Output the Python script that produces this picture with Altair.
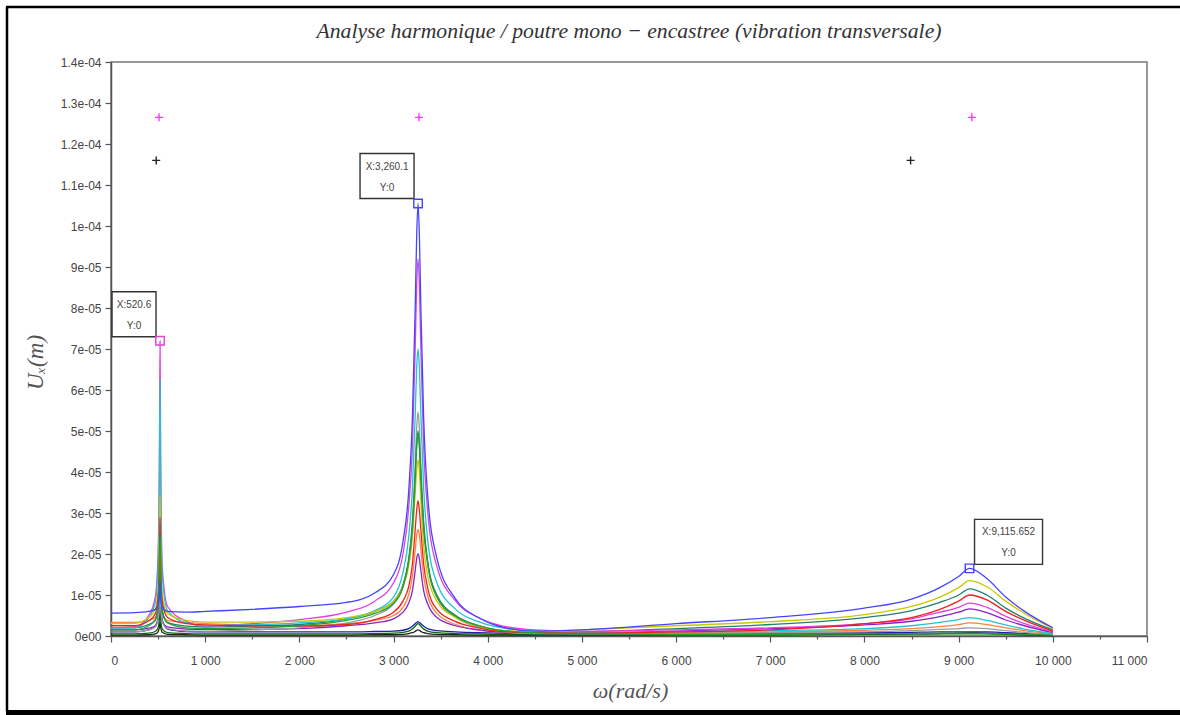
import json

import altair as alt
import pandas as pd

# Pulsation grid (rad/s) shared by every response curve
omega = [0, 250, 400, 470, 500, 515, 520.6, 527, 545, 600, 800, 1000, 1500, 2000,
         2500, 2800, 3000, 3100, 3160, 3200, 3230, 3245, 3260.1, 3275, 3290, 3320,
         3360, 3460, 3660, 3900, 4100, 4500, 5000, 6000, 7000, 8000, 8500, 8800,
         9000, 9115.652, 9300, 9500, 9700, 10000]

# Transverse displacement amplitude of each node, in units of 1e-5 m
u_blue = [0.56, 0.57, 0.6, 0.65, 0.75, 1.0, 1.35, 0.95, 0.7, 0.6, 0.58, 0.6, 0.65, 0.72,
          0.82, 1.05, 1.5, 2.3, 3.5, 5.3, 8.0, 9.7, 10.55, 9.7, 8.0, 5.3, 3.5, 1.9, 0.9,
          0.45, 0.25, 0.12, 0.15, 0.3, 0.45, 0.68, 0.9, 1.18, 1.45, 1.65, 1.4, 0.95, 0.6, 0.2]
u_magenta = [0.2, 0.22, 0.5, 0.95, 2.0, 4.9, 7.2, 4.5, 1.65, 0.72, 0.36, 0.24, 0.3, 0.4,
             0.58, 0.85, 1.3, 2.0, 3.1, 4.6, 7.0, 8.5, 9.2, 8.5, 7.0, 4.6, 3.1, 1.7, 0.85,
             0.45, 0.28, 0.15, 0.12, 0.15, 0.2, 0.3, 0.42, 0.58, 0.7, 0.8, 0.7, 0.48, 0.3, 0.1]
u_cyan = [0.2, 0.2, 0.45, 0.82, 1.75, 4.25, 6.25, 3.95, 1.45, 0.62, 0.32, 0.25, 0.27, 0.32,
          0.42, 0.62, 0.95, 1.55, 2.4, 3.6, 5.4, 6.5, 7.0, 6.5, 5.4, 3.6, 2.4, 1.3, 0.65,
          0.35, 0.22, 0.12, 0.08, 0.1, 0.13, 0.18, 0.25, 0.33, 0.4, 0.45, 0.38, 0.27, 0.17, 0.06]
u_yellow = [0.3, 0.31, 0.45, 0.65, 1.15, 2.5, 3.45, 2.3, 0.98, 0.55, 0.38, 0.34, 0.34, 0.36,
            0.45, 0.6, 0.85, 1.2, 1.7, 2.4, 3.5, 4.0, 4.3, 4.0, 3.3, 2.2, 1.5, 0.85, 0.45,
            0.25, 0.15, 0.1, 0.15, 0.25, 0.35, 0.52, 0.72, 0.95, 1.18, 1.35, 1.2, 0.85, 0.55, 0.18]
u_red = [0.25, 0.25, 0.37, 0.54, 0.98, 2.1, 2.9, 1.95, 0.83, 0.45, 0.3, 0.27, 0.25, 0.24,
         0.28, 0.4, 0.58, 0.85, 1.2, 1.75, 2.6, 3.05, 3.3, 3.05, 2.6, 1.75, 1.2, 0.65, 0.35,
         0.2, 0.12, 0.08, 0.07, 0.1, 0.15, 0.3, 0.45, 0.65, 0.85, 1.0, 0.88, 0.6, 0.38, 0.12]
u_green = [0.15, 0.15, 0.25, 0.4, 0.75, 1.75, 2.45, 1.62, 0.64, 0.32, 0.2, 0.18, 0.2, 0.25,
           0.38, 0.55, 0.8, 1.2, 1.8, 2.6, 3.8, 4.6, 4.95, 4.6, 3.8, 2.6, 1.8, 0.95, 0.48,
           0.25, 0.15, 0.08, 0.05, 0.04, 0.04, 0.05, 0.06, 0.07, 0.07, 0.07, 0.06, 0.05, 0.04, 0.02]
u_teal = [0.2, 0.2, 0.28, 0.39, 0.68, 1.4, 1.9, 1.34, 0.58, 0.33, 0.24, 0.22, 0.24, 0.28,
          0.42, 0.6, 0.85, 1.25, 1.85, 2.7, 3.95, 4.65, 5.0, 4.65, 3.95, 2.7, 1.85, 1.0, 0.5,
          0.26, 0.15, 0.09, 0.1, 0.18, 0.28, 0.45, 0.62, 0.82, 1.0, 1.15, 1.0, 0.68, 0.43, 0.15]
u_grey = [0.1, 0.1, 0.15, 0.22, 0.4, 0.88, 1.2, 0.82, 0.34, 0.18, 0.12, 0.12, 0.15, 0.2,
          0.32, 0.5, 0.78, 1.2, 1.85, 2.8, 4.2, 5.05, 5.46, 5.05, 4.2, 2.8, 1.85, 0.95, 0.45,
          0.22, 0.12, 0.06, 0.05, 0.06, 0.08, 0.1, 0.13, 0.16, 0.18, 0.2, 0.18, 0.13, 0.09, 0.03]
u_purple = [0.15, 0.15, 0.19, 0.25, 0.4, 0.8, 1.0, 0.75, 0.35, 0.22, 0.17, 0.16, 0.16, 0.18,
            0.25, 0.32, 0.42, 0.58, 0.8, 1.1, 1.6, 1.88, 2.0, 1.88, 1.6, 1.1, 0.8, 0.45, 0.25,
            0.15, 0.1, 0.08, 0.08, 0.12, 0.18, 0.27, 0.36, 0.47, 0.58, 0.66, 0.57, 0.39, 0.25, 0.08]
u_orange = [0.33, 0.33, 0.38, 0.45, 0.65, 1.18, 1.5, 1.1, 0.55, 0.38, 0.33, 0.3, 0.27, 0.25,
            0.3, 0.38, 0.5, 0.7, 1.0, 1.45, 2.1, 2.45, 2.6, 2.45, 2.1, 1.45, 1.0, 0.55, 0.28,
            0.15, 0.1, 0.07, 0.07, 0.08, 0.1, 0.14, 0.18, 0.23, 0.28, 0.32, 0.28, 0.2, 0.13, 0.05]
u_navy = [0.1, 0.1, 0.15, 0.24, 0.45, 1.0, 1.4, 0.95, 0.38, 0.17, 0.11, 0.1, 0.1, 0.1,
          0.1, 0.11, 0.12, 0.14, 0.18, 0.24, 0.3, 0.33, 0.35, 0.33, 0.3, 0.24, 0.18, 0.13, 0.1,
          0.08, 0.07, 0.06, 0.06, 0.07, 0.07, 0.08, 0.09, 0.1, 0.1, 0.1, 0.1, 0.08, 0.06, 0.03]
u_darkgreen = [0.05, 0.05, 0.07, 0.11, 0.2, 0.44, 0.6, 0.41, 0.17, 0.08, 0.06, 0.05, 0.05, 0.05,
               0.05, 0.06, 0.07, 0.09, 0.12, 0.17, 0.24, 0.28, 0.3, 0.28, 0.24, 0.17, 0.12, 0.08, 0.06,
               0.05, 0.04, 0.04, 0.04, 0.04, 0.04, 0.05, 0.05, 0.05, 0.05, 0.05, 0.05, 0.04, 0.03, 0.02]
u_black = [0.02, 0.02, 0.03, 0.05, 0.1, 0.24, 0.35, 0.22, 0.09, 0.04, 0.03, 0.02, 0.02, 0.02,
           0.02, 0.03, 0.03, 0.04, 0.06, 0.08, 0.11, 0.14, 0.15, 0.14, 0.11, 0.08, 0.06, 0.04, 0.03,
           0.02, 0.02, 0.02, 0.02, 0.03, 0.03, 0.04, 0.05, 0.06, 0.07, 0.08, 0.07, 0.05, 0.03, 0.01]

UNIT = 1e-5  # amplitudes above are stored in 1e-5 m

# Drawing order: first listed is drawn first (underneath)
series_names = ["black", "darkgreen", "navy", "orange", "purple", "grey", "teal",
                "magenta", "cyan", "yellow", "red", "green", "blue"]
series_values = [u_black, u_darkgreen, u_navy, u_orange, u_purple, u_grey, u_teal,
                 u_magenta, u_cyan, u_yellow, u_red, u_green, u_blue]
series_colors = ["#222222", "#0a6a0a", "#2020a8", "#ff8040", "#8a22c8", "#9a9a9a", "#20806e",
                 "#e040e0", "#20c4d0", "#c8c800", "#f02020", "#22a032", "#4444ff"]

# Datatips: pulsation of the tip and the curve it is attached to
tip_omega = [520.6, 3260.1, 9115.652]
tip_series = ["magenta", "blue", "blue"]

# Reference markers above the peaks
cross_magenta_omega = [510, 3270, 9140]
cross_magenta_u = [12.65, 12.65, 12.65]
cross_black_omega = [480, 8490]
cross_black_u = [11.6, 11.6]

# Tick labels of the vertical axis, one per 1e-5 m
y_tick_labels = ["0e00", "1e-05", "2e-05", "3e-05", "4e-05", "5e-05", "6e-05", "7e-05",
                 "8e-05", "9e-05", "1e-04", "1.1e-04", "1.2e-04", "1.3e-04", "1.4e-04"]

TITLE = "Analyse harmonique / poutre mono − encastree (vibration transversale)"

# ---------------------------------------------------------------- data tables
rows = []
for name, vals in zip(series_names, series_values):
    for k, (w, u) in enumerate(zip(omega, vals)):
        rows.append({"serie": name, "omega": w, "u": u * UNIT, "k": k})
curves = pd.DataFrame(rows)

lookup = dict(zip(series_names, series_values))
tips = pd.DataFrame({
    "omega": tip_omega,
    "serie": tip_series,
    "u": [lookup[s][omega.index(w)] * UNIT for s, w in zip(tip_series, tip_omega)],
})

crosses = pd.DataFrame({
    "omega": cross_magenta_omega + cross_black_omega,
    "u": [v * UNIT for v in cross_magenta_u + cross_black_u],
    "kind": ["m"] * len(cross_magenta_omega) + ["k"] * len(cross_black_omega),
})

# ---------------------------------------------------------------- scales / axes
W, H = 1036, 574
PAD = {"left": 111, "top": 62, "right": 33, "bottom": 79}

AXIS_GREY = "#555555"
LABEL_GREY = "#444444"
SERIF = "Liberation Serif"
SANS = "Liberation Sans"

x_scale = alt.Scale(domain=[0, 11000], nice=False, zero=False)
y_scale = alt.Scale(domain=[0, 1.4e-4], nice=False, zero=False)

x_axis = alt.Axis(
    values=list(range(0, 11001, 500)),
    labelExpr="datum.value % 1000 ? '' : replace(format(datum.value, ','), ',', ' ')",
    tickSize={"condition": {"test": "datum.value % 1000", "value": 3}, "value": 6},
    labelPadding=13, labelFont=SANS, labelFontSize=12, labelColor=LABEL_GREY,
    labelOverlap=False, grid=False,
    domainColor=AXIS_GREY, domainWidth=1.5, tickColor=AXIS_GREY, tickWidth=1.2,
    title="ω(rad/s)", titleFont=SERIF, titleFontStyle="italic", titleFontWeight="normal",
    titleFontSize=22, titleColor=AXIS_GREY, titleX=519, titleY=54,
    titleAlign="center", titleBaseline="middle",
)

y_expr = ("round(datum.value * 2e5) % 2 ? '' : "
          + json.dumps(y_tick_labels) + "[round(datum.value * 1e5)]")
y_axis = alt.Axis(
    values=[round(i * 5e-6, 12) for i in range(29)],
    labelExpr=y_expr,
    tickSize={"condition": {"test": "round(datum.value * 2e5) % 2", "value": 3}, "value": 6},
    labelPadding=4, labelFont=SANS, labelFontSize=12, labelColor=LABEL_GREY,
    labelOverlap=False, labelBound=False, grid=False,
    domainColor=AXIS_GREY, domainWidth=1.5, tickColor=AXIS_GREY, tickWidth=1.2,
    title="Uₓ(m)", titleFont=SERIF, titleFontStyle="italic", titleFontWeight="normal",
    titleFontSize=23, titleColor=AXIS_GREY, titleX=-76, titleY=300, titleAngle=270,
    titleAlign="center", titleBaseline="middle",
)

X = alt.X("omega:Q", scale=x_scale, axis=x_axis)
Y = alt.Y("u:Q", scale=y_scale, axis=y_axis)

lines = alt.Chart(curves).mark_line(strokeWidth=1.3, interpolate="monotone").encode(
    x=X, y=Y,
    color=alt.Color("serie:N", scale=alt.Scale(domain=series_names, range=series_colors),
                    legend=None, sort=series_names),
    order=alt.Order("k:Q"),
)

# "+" markers drawn as stroked custom symbols (size 4 -> 1 path unit = 1 px)
plus_path = "M -4 0 H 4 M 0 -4 V 4"
marks_plus = alt.Chart(crosses).mark_point(
    shape=plus_path, size=4, filled=False, strokeWidth=1.4, opacity=1
).encode(
    x=alt.X("omega:Q", scale=x_scale),
    y=alt.Y("u:Q", scale=y_scale),
    stroke=alt.Stroke("kind:N", scale=alt.Scale(domain=["m", "k"], range=["#ff33ff", "#222222"]),
                      legend=None),
)

# Datatips: open square on the curve, framed label beside it
tip_layers = []
tip_geometry = [  # (box path relative to the tip, text dx)
    ("M -48 -49 H -4 V -4 H -48 Z", -26),
    ("M -58 -50 H -4 V -5 H -58 Z", -31),
    ("M 5 -49 H 73 V -4 H 5 Z", 39),
]
color_of = dict(zip(series_names, series_colors))
for i, (box_path, tdx) in enumerate(tip_geometry):
    d = tips.iloc[[i]]
    base = alt.Chart(d).encode(x=alt.X("omega:Q", scale=x_scale), y=alt.Y("u:Q", scale=y_scale))
    tip_layers.append(base.mark_point(shape=box_path, size=4, filled=True, fill="white",
                                      stroke="#333333", strokeWidth=1.4, opacity=1))
    tip_layers.append(base.mark_point(shape="square", size=72, filled=False,
                                      stroke=color_of[tips["serie"][i]], strokeWidth=1.4,
                                      opacity=1))
    tip_layers.append(base.mark_text(dx=tdx, dy=-36, font=SANS, fontSize=10, color="#444444")
                      .transform_calculate(lbl="'X:' + format(datum.omega, ',')")
                      .encode(text="lbl:N"))
    tip_layers.append(base.mark_text(dx=tdx, dy=-15, font=SANS, fontSize=10, color="#444444")
                      .transform_calculate(lbl="'Y:' + format(datum.u, '.0f')")
                      .encode(text="lbl:N"))

one = alt.Data(values=[{}])

# Chart title, centred over the plot area
title_text = alt.Chart(one).mark_text(
    text=TITLE, font=SERIF, fontStyle="italic", fontSize=21.7, color="#333333",
    align="center", baseline="middle",
).encode(x=alt.value(W / 2), y=alt.value(-31))

# Figure frame (left and top edges, heavy bottom edge)
frame_left = alt.Chart(one).mark_rule(color="black", strokeWidth=2.5).encode(
    x=alt.value(-104), y=alt.value(-55), y2=alt.value(649))
frame_top = alt.Chart(one).mark_rule(color="black", strokeWidth=2.5).encode(
    x=alt.value(-105), x2=alt.value(1069), y=alt.value(-55))
frame_bottom = alt.Chart(one).mark_rule(color="black", strokeWidth=5).encode(
    x=alt.value(-105), x2=alt.value(1069), y=alt.value(650.5))

chart = alt.layer(
    lines, marks_plus, *tip_layers, title_text, frame_left, frame_top, frame_bottom
).properties(
    width=W, height=H,
    padding=PAD,
    autosize=alt.AutoSizeParams(type="none"),
    background="white",
).configure_view(
    stroke="#777777", strokeWidth=1.5,
)

chart.save("out.html", embed_options={"renderer": "svg", "actions": False})
